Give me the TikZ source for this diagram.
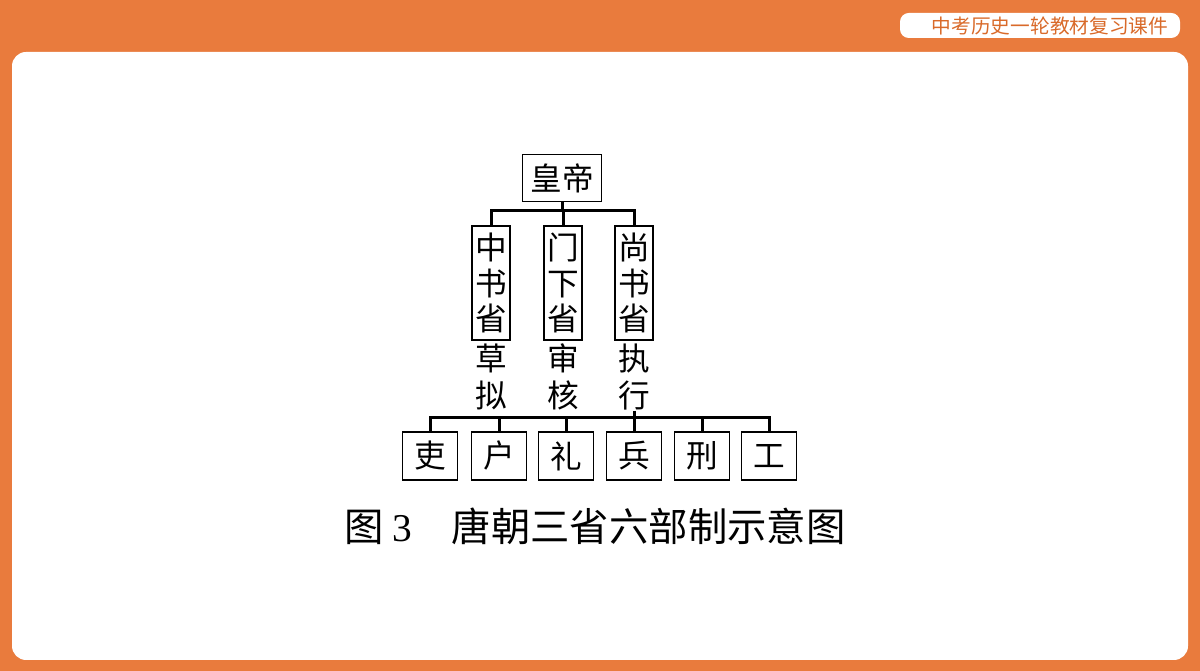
\documentclass[tikz,border=0pt]{standalone}
\usepackage{fontspec}
\usepackage{tikz}
\newfontfamily\cjk{Noto Sans CJK SC}
\newfontfamily\numfont{Liberation Serif}
\definecolor{pptorange}{HTML}{E97B3D}
\definecolor{titleorange}{HTML}{D96A2A}

\begin{document}
\begin{tikzpicture}[x=0.01cm, y=-0.01cm,
    box/.style={draw, line width=0.5pt, inner sep=0pt, font=\cjk\fontsize{9}{10}\selectfont},
    bu/.style={box, minimum width=0.55cm, minimum height=0.48cm},
    sheng/.style={box, minimum width=0.38cm, minimum height=1.14cm, align=center},
    duty/.style={inner sep=0pt, align=center, font=\cjk\fontsize{9}{10.5}\selectfont},
    link/.style={line width=0.85pt}]
    % Page background and white panel
    \useasboundingbox (0,0) rectangle (1200,671);
    \fill[pptorange] (0,0) rectangle (1200,671);
    \fill[white, rounded corners=4pt] (12,52) rectangle (1188,660);
    \fill[white, rounded corners=2.5pt] (900,13) rectangle (1180,38);
    \node[text=titleorange, font=\cjk\fontsize{5.6}{6}\selectfont] (head) at (1050,26) {中考历史一轮教材复习课件};

    % Emperor
    \node[box, minimum width=0.79cm, minimum height=0.47cm] (huang) at (562,178) {皇帝};

    % Three departments
    \node[sheng] (zhong) at (491,283) {中\\书\\省};
    \node[sheng] (menxia) at (563,283) {门\\下\\省};
    \node[sheng] (shang) at (634,283) {尚\\书\\省};
    \node[duty] (op1) at (491,377) {草\\拟};
    \node[duty] (op2) at (563,377) {审\\核};
    \node[duty] (op3) at (634,377) {执\\行};

    % Six ministries
    \node[bu] (li) at (430,456) {吏};
    \node[bu] (hu) at (499,456) {户};
    \node[bu] (li2) at (566,456) {礼};
    \node[bu] (bing) at (634,456) {兵};
    \node[bu] (xing) at (702,456) {刑};
    \node[bu] (gong) at (769,456) {工};

    % Connectors
    \coordinate (bar1) at (562,211);
    \coordinate (bar2) at (634,418);
    \draw[link] (huang.south) -- (bar1);
    \draw[link] (zhong.north) |- (bar1) -| (shang.north);
    \draw[link] (menxia.north) -- (menxia.north |- bar1);
    \draw[link] (op3.south) -- (bar2);
    \draw[link] (li.north) |- (bar2) -| (gong.north);
    \foreach \b in {hu,li2,bing,xing}
        \draw[link] (\b.north) -- (\b.north |- bar2);

    % Caption
    \node[font=\cjk\fontsize{11.2}{12}\selectfont] (cap) at (595,526) {图 {\numfont 3}\quad 唐朝三省六部制示意图};
\end{tikzpicture}
\end{document}
